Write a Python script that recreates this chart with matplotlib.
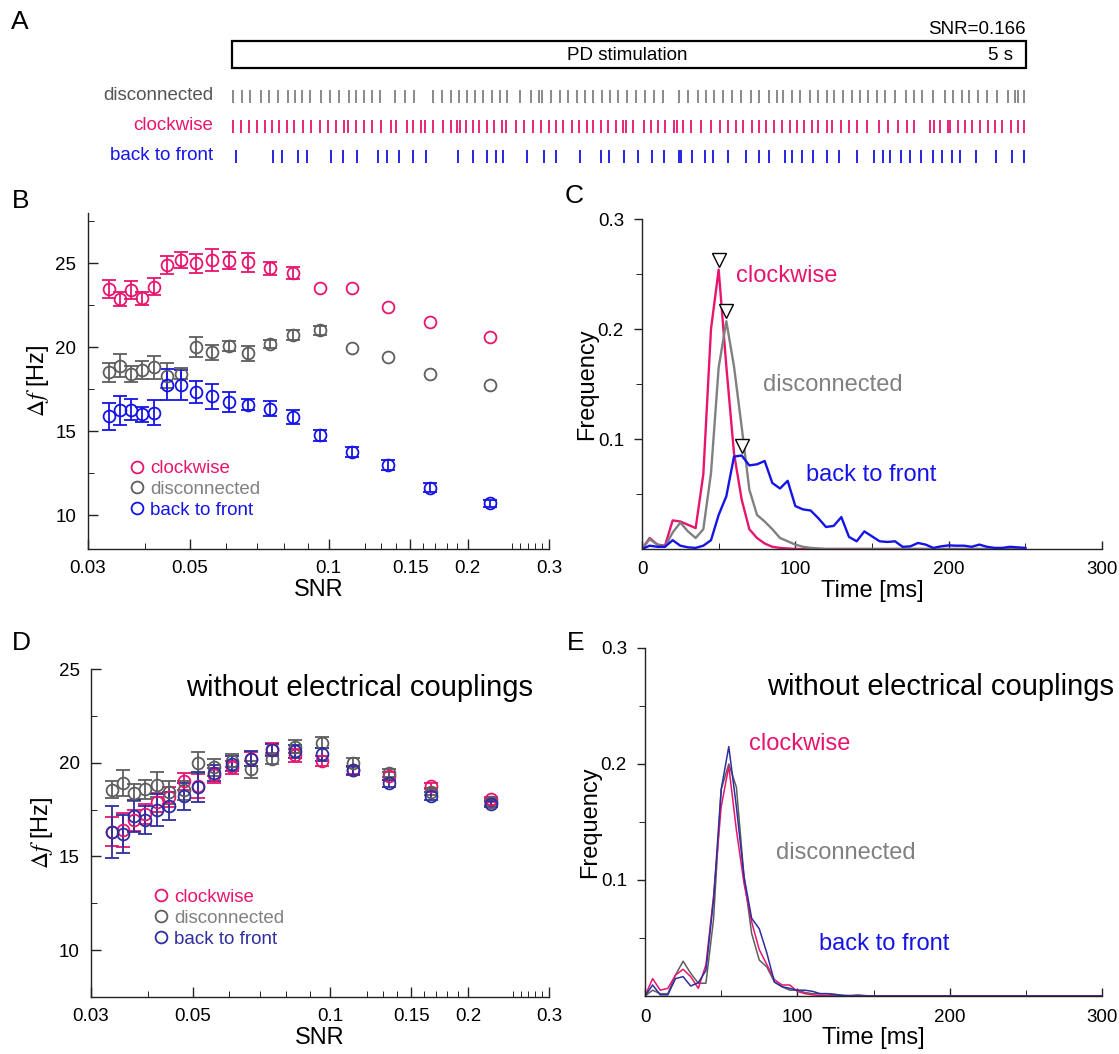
import matplotlib
matplotlib.use("Agg")
import numpy as np
import matplotlib.pyplot as plt
from matplotlib.lines import Line2D
from matplotlib.patches import Rectangle
from matplotlib.ticker import FixedLocator, NullFormatter

plt.rcParams['font.family'] = ['Liberation Sans', 'DejaVu Sans']
plt.rcParams['mathtext.fontset'] = 'stix'

PINK = '#e8156f'
GRAY = '#5e5e5e'
LGRAY = '#808080'
BLUE = '#1414e6'
NAVY = '#2e2ea0'

names = ['clockwise', 'disconnected', 'back to front']

# --- A: spike raster (s) ---
spikes_disc = [0.006, 0.063, 0.113, 0.183, 0.233, 0.290, 0.352, 0.397, 0.441, 0.491,
               0.561, 0.617, 0.674, 0.737, 0.781, 0.831, 0.882, 0.932, 1.026, 1.089,
               1.146, 1.266, 1.321, 1.379, 1.431, 1.478, 1.530, 1.583, 1.635, 1.688,
               1.734, 1.814, 1.883, 1.935, 1.954, 2.009, 2.065, 2.114, 2.171, 2.223,
               2.275, 2.328, 2.380, 2.433, 2.486, 2.544, 2.601, 2.659, 2.716, 2.817,
               2.873, 2.933, 2.985, 3.037, 3.094, 3.150, 3.205, 3.268, 3.319, 3.383,
               3.430, 3.472, 3.525, 3.577, 3.640, 3.692, 3.745, 3.793, 3.850, 3.902,
               3.955, 4.007, 4.060, 4.112, 4.175, 4.244, 4.297, 4.343, 4.416, 4.490,
               4.538, 4.595, 4.643, 4.696, 4.752, 4.815, 4.885, 4.931, 4.952, 4.989]
spikes_cw = [0.008, 0.057, 0.107, 0.159, 0.208, 0.254, 0.298, 0.344, 0.392, 0.449,
             0.497, 0.554, 0.606, 0.655, 0.707, 0.732, 0.779, 0.833, 0.883, 0.936,
             1.001, 1.031, 1.100, 1.142, 1.188, 1.215, 1.268, 1.331, 1.377, 1.419,
             1.436, 1.472, 1.516, 1.557, 1.604, 1.652, 1.698, 1.724, 1.787, 1.841,
             1.894, 1.946, 1.996, 2.040, 2.086, 2.139, 2.187, 2.234, 2.275, 2.324,
             2.370, 2.416, 2.464, 2.481, 2.527, 2.594, 2.639, 2.681, 2.727, 2.785,
             2.800, 2.838, 2.890, 2.953, 3.016, 3.073, 3.122, 3.174, 3.220, 3.273,
             3.319, 3.361, 3.415, 3.465, 3.514, 3.556, 3.604, 3.654, 3.692, 3.745,
             3.780, 3.835, 3.885, 3.934, 3.997, 4.076, 4.133, 4.196, 4.249, 4.297,
             4.395, 4.423, 4.458, 4.507, 4.521, 4.574, 4.616, 4.662, 4.710, 4.759,
             4.805, 4.847, 4.906, 4.948, 4.989]
spikes_btf = [0.025, 0.260, 0.317, 0.418, 0.470, 0.623, 0.701, 0.785, 0.918, 0.978,
              1.052, 1.138, 1.222, 1.421, 1.516, 1.604, 1.661, 1.705, 1.856, 1.965,
              2.040, 2.191, 2.324, 2.376, 2.469, 2.559, 2.643, 2.720, 2.815, 2.827,
              2.895, 2.979, 3.031, 3.125, 3.237, 3.319, 3.382, 3.482, 3.528, 3.588,
              3.661, 3.745, 3.822, 3.934, 4.043, 4.098, 4.144, 4.213, 4.270, 4.339,
              4.416, 4.473, 4.532, 4.584, 4.685, 4.811, 4.910, 4.989]

# --- B / D: frequency difference vs SNR (0 = bar hidden by marker) ---
snr = [0.0334, 0.0352, 0.0372, 0.0394, 0.0418, 0.0445, 0.0478, 0.0515, 0.0558,
       0.0608, 0.0669, 0.0747, 0.0836, 0.0956, 0.1121, 0.1343, 0.166, 0.2237]

b_cw = [23.48, 22.89, 23.42, 22.92, 23.62, 24.90, 25.20, 25.0, 25.2, 25.16, 25.06,
        24.70, 24.41, 23.52, 23.52, 22.39, 21.54, 20.61]
b_cw_err = [0.55, 0.4, 0.55, 0.4, 0.5, 0.55, 0.5, 0.55, 0.65, 0.5, 0.55, 0.4, 0.35,
            0, 0, 0, 0, 0]
b_disc = [18.52, 18.91, 18.42, 18.64, 18.81, 18.32, 18.44, 20.0, 19.72, 20.10, 19.66,
          20.20, 20.75, 21.01, 19.96, 19.41, 18.44, 17.79]
b_disc_err = [0.55, 0.7, 0.45, 0.55, 0.7, 0.75, 0.35, 0.6, 0.45, 0.3, 0.45, 0.25, 0.3,
              0.25, 0, 0, 0, 0]
b_btf = [15.91, 16.26, 16.30, 16.01, 16.11, 17.79, 17.75, 17.33, 17.09, 16.74, 16.60,
         16.34, 15.87, 14.76, 13.77, 13.0, 11.66, 10.71]
b_btf_err = [0.8, 0.85, 0.6, 0.45, 0.75, 0.9, 0.9, 0.65, 0.75, 0.6, 0.35, 0.45, 0.4,
             0.35, 0.3, 0.3, 0.25, 0.2]

d_cw = [16.33, 16.42, 16.92, 17.26, 17.88, 18.17, 19.0, 18.77, 19.32, 19.75, 20.2,
        20.73, 20.39, 20.09, 19.6, 19.29, 18.78, 18.04]
d_cw_err = [0.8, 0.9, 0.55, 0.55, 0.5, 0.55, 0.45, 0.65, 0.4, 0.35, 0.35, 0.3, 0.35,
            0.25, 0.2, 0.2, 0.15, 0.15]
d_disc = [18.55, 18.93, 18.39, 18.59, 18.83, 18.42, 18.52, 20.0, 19.75, 20.1, 19.66,
          20.22, 20.85, 21.07, 20.0, 19.46, 18.45, 17.9]
d_disc_err = [0.45, 0.7, 0.45, 0.5, 0.65, 0.6, 0.5, 0.55, 0.45, 0.35, 0.45, 0.3, 0.35,
              0.3, 0.25, 0.2, 0.15, 0.15]
d_btf = [16.3, 16.2, 17.15, 16.96, 17.46, 17.7, 18.2, 18.68, 19.45, 19.95, 20.2,
         20.68, 20.6, 20.45, 19.6, 18.9, 18.22, 17.8]
d_btf_err = [1.38, 1.0, 0.85, 0.75, 0.85, 0.75, 0.7, 0.8, 0.45, 0.4, 0.4, 0.3, 0.35,
             0.35, 0.25, 0.2, 0.2, 0.15]

# --- C / E: latency histograms (5 ms bins) ---
c_time = list(range(0, 255, 5))
c_cw = [0, 0.010, 0.004, 0.003, 0.026, 0.025, 0.022, 0.019, 0.068, 0.200,
        0.254, 0.166, 0.087, 0.045, 0.018, 0.010, 0.005, 0.002, 0.001, 0.0005,
        0, 0, 0, 0, 0, 0, 0, 0, 0, 0,
        0, 0, 0, 0, 0, 0, 0, 0, 0, 0,
        0, 0, 0, 0, 0, 0, 0, 0, 0, 0, 0]
c_disc = [0, 0.009, 0.004, 0.002, 0.015, 0.024, 0.016, 0.010, 0.018, 0.069,
          0.165, 0.207, 0.166, 0.111, 0.054, 0.031, 0.025, 0.018, 0.010, 0.007,
          0.004, 0.002, 0.001, 0.0005, 0, 0, 0, 0, 0, 0,
          0, 0, 0, 0, 0, 0, 0, 0, 0, 0,
          0, 0, 0, 0, 0, 0, 0, 0, 0, 0, 0]
c_btf = [0, 0.003, 0.002, 0.002, 0.008, 0.003, 0.0015, 0.001, 0.003, 0.008,
         0.031, 0.048, 0.084, 0.085, 0.076, 0.077, 0.080, 0.060, 0.055, 0.062,
         0.039, 0.036, 0.035, 0.028, 0.020, 0.021, 0.029, 0.011, 0.007, 0.016,
         0.0115, 0.007, 0.0064, 0.007, 0.002, 0.0024, 0.0055, 0.004, 0.001, 0.0024,
         0.0033, 0.003, 0.003, 0.002, 0.004, 0.002, 0.001, 0.001, 0.002, 0.0015, 0.001]

e_time = list(range(0, 305, 5))
e_cw = [0, 0.015, 0.005, 0.0066, 0.018, 0.023, 0.0167, 0.0066, 0.027, 0.086,
        0.163, 0.198, 0.143, 0.097, 0.064, 0.040, 0.027, 0.014, 0.0095, 0.0095,
        0.004, 0.002, 0.001, 0.0005, 0.0003, 0, 0, 0, 0, 0,
        0, 0, 0, 0, 0, 0, 0, 0, 0, 0,
        0, 0, 0, 0, 0, 0, 0, 0, 0, 0,
        0, 0, 0, 0, 0, 0, 0, 0, 0, 0, 0]
e_disc = [0, 0.005, 0.002, 0.002, 0.018, 0.030, 0.0196, 0.011, 0.011, 0.066,
          0.178, 0.200, 0.180, 0.103, 0.054, 0.031, 0.025, 0.012, 0.008, 0.005,
          0.005, 0.003, 0.002, 0.002, 0.002, 0.0015, 0.0005, 0.0005, 0.001, 0.0003,
          0, 0, 0, 0, 0, 0, 0, 0, 0, 0,
          0, 0, 0, 0, 0, 0, 0, 0, 0, 0,
          0, 0, 0, 0, 0, 0, 0, 0, 0, 0, 0]
e_btf = [0, 0.0095, 0.001, 0.001, 0.015, 0.0167, 0.0086, 0.0115, 0.022, 0.083,
         0.178, 0.215, 0.163, 0.103, 0.067, 0.058, 0.037, 0.012, 0.008, 0.0066,
         0.005, 0.005, 0.004, 0.002, 0.002, 0.001, 0.0005, 0, 0, 0,
         0, 0, 0, 0, 0, 0, 0, 0, 0, 0,
         0, 0, 0, 0, 0, 0, 0, 0, 0, 0,
         0, 0, 0, 0, 0, 0, 0, 0, 0, 0, 0]

snr_ticks = [0.03, 0.05, 0.1, 0.15, 0.2, 0.3]
snr_minor = [0.04, 0.06, 0.07, 0.08, 0.09, 0.12, 0.13, 0.14, 0.16, 0.17, 0.18,
             0.19, 0.25, 0.26, 0.27, 0.28, 0.29]

fig = plt.figure(figsize=(11.19, 10.54), dpi=100)


def style(ax):
    for s in ['top', 'right']:
        ax.spines[s].set_visible(False)
    for s in ['left', 'bottom']:
        ax.spines[s].set_linewidth(1.0)
        ax.spines[s].set_color('#222222')
    ax.tick_params(labelsize=13.5, width=1.0, color='#222222')


def bars(err):
    # zero error -> no visible bar
    e = np.array(err, dtype=float)
    e[e == 0] = np.nan
    return e


def snr_panel(ax, cw, cw_e, disc, disc_e, btf, btf_e, ylim, blue, leg_anchor):
    kw = dict(fmt='o', ms=8.5, mfc='none', mew=1.3, elinewidth=1.3, capsize=5, capthick=1.3)
    ax.errorbar(snr, cw, yerr=bars(cw_e), color=PINK, **kw)
    ax.errorbar(snr, disc, yerr=bars(disc_e), color=GRAY, **kw)
    ax.errorbar(snr, btf, yerr=bars(btf_e), color=blue, **kw)
    ax.set_xscale('log')
    ax.set_xlim(0.03, 0.3)
    ax.set_ylim(*ylim)
    ax.xaxis.set_major_locator(FixedLocator(snr_ticks))
    ax.xaxis.set_minor_locator(FixedLocator(snr_minor))
    ax.xaxis.set_minor_formatter(NullFormatter())
    ax.set_xticklabels([str(t) for t in snr_ticks])
    ax.set_yticks([10, 15, 20, 25])
    style(ax)
    ax.tick_params(which='both', direction='in')
    ax.tick_params(which='major', length=7, pad=8)
    ax.tick_params(which='minor', length=4)
    ax.set_xlabel('SNR', fontsize=17, labelpad=1)
    ax.set_ylabel(r'$\Delta f$ [Hz]', fontsize=17, labelpad=3)
    handles = [Line2D([], [], ls='none', marker='o', ms=8.5, mfc='none', mec=c, mew=1.3)
               for c in [PINK, GRAY, blue]]
    ax.legend(handles, names, loc='upper left', bbox_to_anchor=leg_anchor,
              frameon=False, fontsize=13.5, handlelength=0.6, handletextpad=0.4,
              labelspacing=0.2, borderpad=0, borderaxespad=0,
              labelcolor=[PINK, LGRAY, blue])


def hist_panel(ax, t, series, colors, lw):
    for y, c in zip(series, colors):
        ax.plot(t, y, color=c, lw=lw)
    ax.set_xlim(0, 300)
    ax.set_ylim(0, 0.3)
    ax.set_xticks([0, 100, 200, 300])
    ax.xaxis.set_minor_locator(FixedLocator([50, 150, 250]))
    ax.set_yticks([0.1, 0.2, 0.3])
    ax.set_yticklabels(['0.1', '0.2', '0.3'])
    ax.yaxis.set_minor_locator(FixedLocator([0.05, 0.15, 0.25]))
    style(ax)
    ax.tick_params(axis='x', which='both', direction='in')
    ax.tick_params(axis='y', which='both', direction='out')
    ax.tick_params(which='major', length=6, pad=7)
    ax.tick_params(axis='x', which='major', pad=9)
    ax.tick_params(which='minor', length=4)
    ax.set_xlabel('Time [ms]', fontsize=17, labelpad=1)
    ax.set_ylabel('Frequency', fontsize=17, labelpad=0)


# ---------- A ----------
axA = fig.add_axes([232 / 1119, 1 - 172 / 1054, 794 / 1119, 157 / 1054])
axA.set_xlim(0, 5)
axA.set_ylim(172, 15)
axA.axis('off')
axA.eventplot([spikes_disc, spikes_cw, spikes_btf], lineoffsets=[96, 126, 156],
              linelengths=13, linewidths=1.3, colors=[LGRAY, PINK, BLUE])
axA.add_patch(Rectangle((0, 41), 5, 27, fill=False, lw=1.6, ec='black', clip_on=False))
axA.text(5, 29, 'SNR=0.166', ha='right', va='center', fontsize=13.5)
axA.text(2.49, 55, 'PD stimulation', ha='center', va='center', fontsize=13.5)
axA.text(4.92, 55, '5 s', ha='right', va='center', fontsize=13.5)
for y, lab, c in zip([96, 126, 156], ['disconnected', 'clockwise', 'back to front'],
                     ['#555555', PINK, BLUE]):
    axA.text(-0.12, y, lab, ha='right', va='center', fontsize=13.5, color=c)

# ---------- B ----------
axB = fig.add_axes([87.5 / 1119, 1 - 549 / 1054, 461.5 / 1119, 336 / 1054])
snr_panel(axB, b_cw, b_cw_err, b_disc, b_disc_err, b_btf, b_btf_err, (8, 28), BLUE,
          (0.095, 0.265))
axB.yaxis.set_minor_locator(FixedLocator([12.5, 17.5, 22.5, 27.5]))

# ---------- C ----------
axC = fig.add_axes([642 / 1119, 1 - 549 / 1054, 460 / 1119, 330 / 1054])
hist_panel(axC, c_time, [c_cw, c_disc, c_btf], [PINK, LGRAY, BLUE], 1.7)
for y, c in zip([c_cw, c_disc, c_btf], [PINK, LGRAY, BLUE]):
    i = int(np.argmax(y))
    axC.plot(c_time[i], y[i] + 0.009, marker='v', ms=10, mfc='white', mec='black',
             mew=1.0, ls='none', clip_on=False)
axC.text(61, 0.248, 'clockwise', color=PINK, fontsize=17, va='center')
axC.text(79, 0.149, 'disconnected', color=LGRAY, fontsize=17, va='center')
axC.text(107, 0.067, 'back to front', color=BLUE, fontsize=17, va='center')

# ---------- D ----------
axD = fig.add_axes([91 / 1119, 1 - 997 / 1054, 458 / 1119, 328 / 1054])
snr_panel(axD, d_cw, d_cw_err, d_disc, d_disc_err, d_btf, d_btf_err, (7.5, 25), NAVY,
          (0.14, 0.33))
axD.yaxis.set_minor_locator(FixedLocator([12.5, 17.5, 22.5]))
axD.text(0.1158, 24.0, 'without electrical couplings', ha='center', va='center',
         fontsize=21)

# ---------- E ----------
axE = fig.add_axes([645 / 1119, 1 - 996 / 1054, 457 / 1119, 348 / 1054])
hist_panel(axE, e_time, [e_disc, e_cw, e_btf], [GRAY, PINK, NAVY], 1.1)
axE.text(194, 0.266, 'without electrical couplings', ha='center', va='center',
         fontsize=21)
axE.text(68, 0.217, 'clockwise', color=PINK, fontsize=17, va='center')
axE.text(86, 0.123, 'disconnected', color=LGRAY, fontsize=17, va='center')
axE.text(114, 0.045, 'back to front', color=BLUE, fontsize=17, va='center')

# panel letters
for lab, x, y in [('A', 20, 22), ('B', 21, 201), ('C', 574, 196), ('D', 21, 643),
                  ('E', 576, 643)]:
    fig.text(x / 1119, 1 - y / 1054, lab, fontsize=19, ha='center', va='center')

fig.savefig('out.png', dpi=100)
